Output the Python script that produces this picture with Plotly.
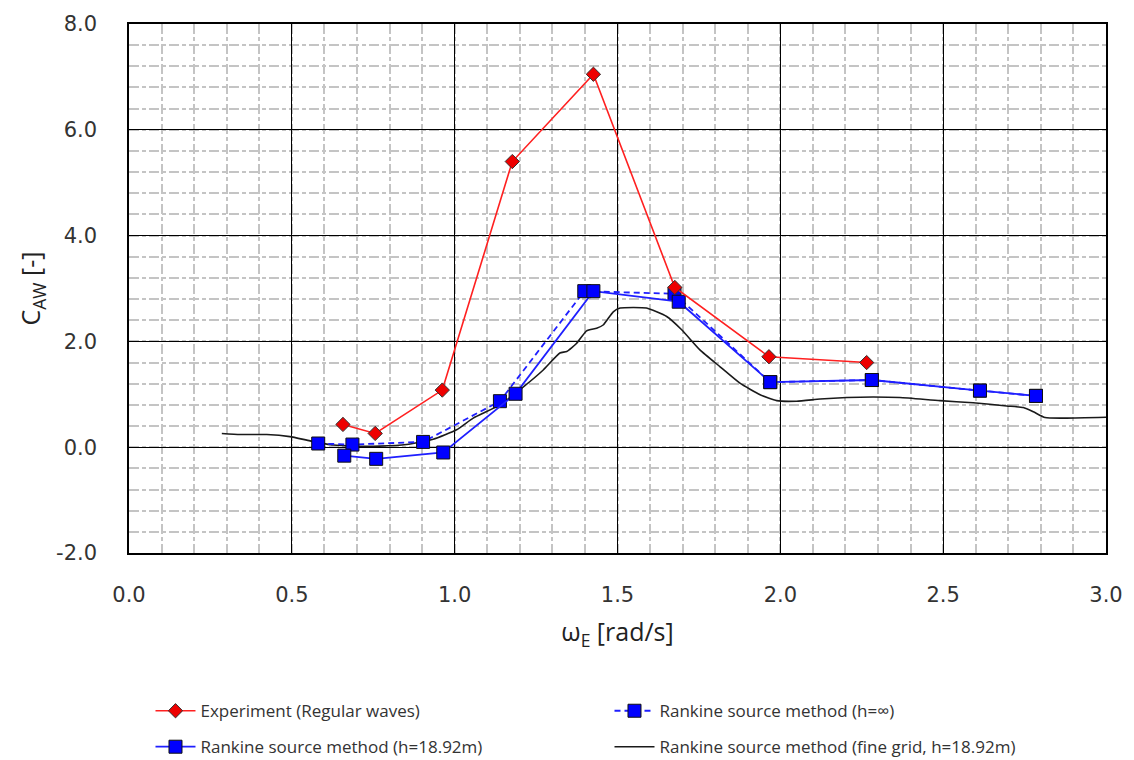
import plotly.graph_objects as go

# ---- data ----
exp_x = [0.657, 0.756, 0.962, 1.177, 1.426, 1.676, 1.965, 2.265]
exp_y = [0.43, 0.26, 1.08, 5.40, 7.05, 3.02, 1.71, 1.60]

inf_x = [0.581, 0.686, 0.903, 1.139, 1.398, 1.675, 1.969, 2.281, 2.613, 2.785]
inf_y = [0.07, 0.05, 0.10, 0.87, 2.95, 2.90, 1.23, 1.27, 1.07, 0.97]

h18_x = [0.661, 0.759, 0.965, 1.187, 1.426, 1.688, 1.969, 2.281, 2.613, 2.785]
h18_y = [-0.16, -0.22, -0.10, 1.01, 2.95, 2.75, 1.23, 1.27, 1.07, 0.97]

fine_x = [0.285, 0.341, 0.423, 0.494, 0.556, 0.627, 0.689, 0.770, 0.852, 0.934,
          1.006, 1.057, 1.139, 1.211, 1.272, 1.323, 1.344, 1.374, 1.405, 1.436,
          1.456, 1.487, 1.508, 1.549, 1.589, 1.651, 1.697, 1.753, 1.815, 1.876,
          1.938, 1.989, 2.050, 2.122, 2.204, 2.285, 2.367, 2.490, 2.592, 2.695,
          2.746, 2.777, 2.813, 2.879, 3.000]
fine_y = [0.26, 0.24, 0.24, 0.20, 0.12, 0.04, 0.02, 0.02, 0.05, 0.15,
          0.33, 0.55, 0.80, 1.14, 1.46, 1.78, 1.81, 1.96, 2.20, 2.25,
          2.31, 2.56, 2.63, 2.64, 2.63, 2.47, 2.22, 1.84, 1.52, 1.21,
          0.99, 0.88, 0.87, 0.91, 0.94, 0.95, 0.94, 0.88, 0.84, 0.78,
          0.75, 0.67, 0.56, 0.55, 0.565]

x_ticks = [0.0, 0.5, 1.0, 1.5, 2.0, 2.5, 3.0]
x_labels = ["0.0", "0.5", "1.0", "1.5", "2.0", "2.5", "3.0"]
y_ticks = [-2.0, 0.0, 2.0, 4.0, 6.0, 8.0]
y_labels = ["-2.0", "0.0", "2.0", "4.0", "6.0", "8.0"]

names = ["Experiment (Regular waves)", "Rankine source method (h=∞)",
         "Rankine source method (h=18.92m)", "Rankine source method (fine grid, h=18.92m)"]

fig = go.Figure()

fig.add_trace(go.Scatter(
    x=fine_x, y=fine_y, mode="lines", name=names[3], legend="legend2",
    line=dict(color="#1a1a1a", width=1.6, shape="spline", smoothing=0.5)))
fig.add_trace(go.Scatter(
    x=inf_x, y=inf_y, mode="lines+markers", name=names[1], legend="legend",
    line=dict(color="#1f1fff", width=1.8, dash="6px,4px"),
    marker=dict(symbol="square", size=13, color="#0000ff",
                line=dict(color="#111", width=1))))
fig.add_trace(go.Scatter(
    x=h18_x, y=h18_y, mode="lines+markers", name=names[2], legend="legend2",
    line=dict(color="#1f1fff", width=1.8),
    marker=dict(symbol="square", size=13, color="#0000ff",
                line=dict(color="#111", width=1))))
fig.add_trace(go.Scatter(
    x=exp_x, y=exp_y, mode="lines+markers", name=names[0], legend="legend",
    line=dict(color="#ff2020", width=1.6),
    marker=dict(symbol="diamond", size=11, color="#ee0000",
                line=dict(color="#333", width=1))))

tickfont = dict(family="DejaVu Sans", size=21, color="#333333")
grid_minor = dict(showgrid=True, gridcolor="#c4c4c4", gridwidth=1.5, griddash="10px,3px,4px,3px")

fig.update_xaxes(
    range=[0, 3], tickvals=x_ticks, ticktext=x_labels, tickfont=tickfont,
    showgrid=True, gridcolor="#000", gridwidth=1.2,
    minor=dict(dtick=0.1, tick0=0, **grid_minor),
    showline=True, linecolor="#000", linewidth=1.5, mirror=True,
    zeroline=False, ticks="", ticklabelstandoff=22,
    title=dict(text="ω<sub>E</sub> [rad/s]", font=dict(family="Open Sans", size=25, color="#222"),
               standoff=18))
fig.update_yaxes(
    range=[-2, 8], tickvals=y_ticks, ticktext=y_labels, tickfont=tickfont,
    showgrid=True, gridcolor="#000", gridwidth=1.2,
    minor=dict(dtick=0.4, tick0=0, **grid_minor),
    showline=True, linecolor="#000", linewidth=1.5, mirror=True,
    zeroline=True, zerolinecolor="#000", zerolinewidth=1.2,
    ticks="", ticklabelstandoff=26,
    title=dict(text="C<sub>AW</sub> [-]", font=dict(family="Open Sans", size=25, color="#222"),
               standoff=8))

legfont = dict(family="Open Sans", size=17, color="#333333")
fig.update_layout(
    width=1134, height=760,
    margin=dict(l=129, r=28, t=24, b=207, autoexpand=False),
    paper_bgcolor="white", plot_bgcolor="white",
    showlegend=True,
    legend=dict(orientation="h", x=0.022, xanchor="left", y=-0.265, yanchor="top",
                entrywidth=404, entrywidthmode="pixels", font=legfont,
                traceorder="reversed", bgcolor="rgba(0,0,0,0)", itemwidth=40),
    legend2=dict(orientation="h", x=0.022, xanchor="left", y=-0.333, yanchor="top",
                 entrywidth=404, entrywidthmode="pixels", font=legfont,
                 traceorder="reversed", bgcolor="rgba(0,0,0,0)", itemwidth=40),
)

fig.write_html("out.html")
